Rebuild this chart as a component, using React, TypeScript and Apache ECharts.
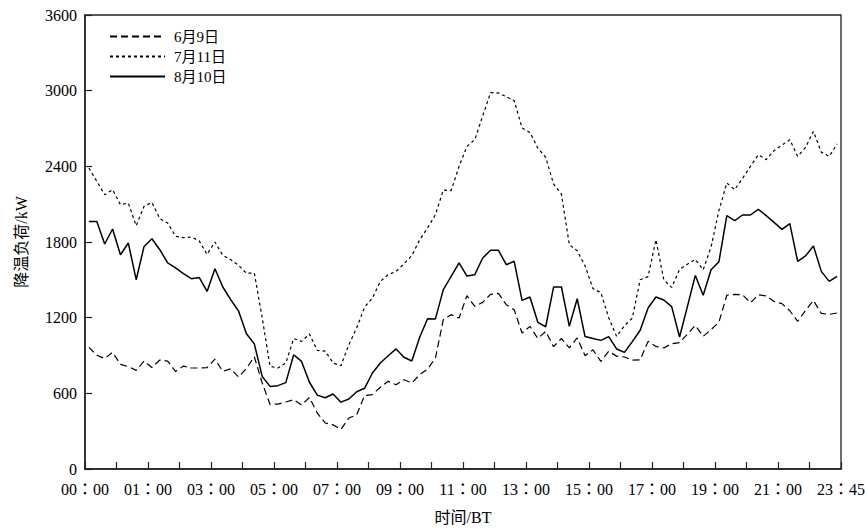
import React, { useEffect, useRef } from "react";
import * as echarts from "echarts";

const seriesNames = ["6月9日", "7月11日", "8月10日"];

const xTickLabels = [
  "00：00", "01：00", "03：00", "05：00", "07：00", "09：00", "11：00",
  "13：00", "15：00", "17：00", "19：00", "21：00", "23：45",
];

const yTicks = { min: 0, max: 3600, interval: 600 };

const load0609 = [
  965, 902, 876, 925, 830, 812, 782, 856, 805, 864, 856, 774, 816, 801, 801, 803, 872, 774, 794, 730, 797, 890,
  682, 512, 515, 531, 550, 507, 567, 444, 365, 350, 314, 404, 430, 582, 590, 648, 695, 668, 708, 682, 748, 793, 880, 1184, 1224, 1197,
  1375, 1289, 1321, 1385, 1392, 1303, 1263, 1078, 1131, 1035, 1091, 970, 1035, 960, 1039, 898, 945, 853, 933, 895, 888, 863, 865, 1012, 972, 960, 994, 1002, 1070, 1138, 1052, 1105,
  1165, 1378, 1385, 1382, 1318, 1382, 1372, 1329, 1311, 1255, 1170, 1258, 1336, 1234, 1226, 1237,
];

const load0711 = [
  2387, 2281, 2175, 2215, 2096, 2109, 1929, 2083, 2114, 1985, 1950, 1845, 1834, 1840, 1809, 1702, 1800, 1695, 1660, 1615, 1552, 1554,
  1200, 814, 801, 841, 1034, 1012, 1070, 940, 935, 841, 819, 985, 1118, 1283, 1356, 1488, 1541, 1567, 1627, 1692, 1818, 1911, 2017, 2212, 2208,
  2400, 2558, 2611, 2800, 2985, 2982, 2952, 2920, 2704, 2669, 2545, 2472, 2260, 2180, 1779, 1730, 1612, 1430, 1400, 1200, 1052, 1135, 1197,
  1501, 1525, 1818, 1500, 1440, 1583, 1624, 1662, 1580, 1760, 2050, 2268, 2215, 2305, 2400, 2492, 2453, 2525, 2568, 2611, 2479, 2550, 2677, 2512, 2479, 2578,
];

const load0810 = [
  1963, 1963, 1784, 1903, 1699, 1792, 1501, 1765, 1826, 1739, 1634, 1594, 1549, 1509, 1519, 1408, 1588, 1443, 1343, 1253, 1073, 992,
  734, 655, 661, 685, 906, 853, 688, 586, 565, 595, 530, 555, 613, 640, 761, 841, 898, 952, 886, 856, 1045, 1192, 1190, 1422, 1527, 1634,
  1530, 1541, 1673, 1734, 1734, 1620, 1647, 1337, 1364, 1163, 1128, 1443, 1443, 1132, 1350, 1050, 1035, 1020, 1050, 952, 925, 1010, 1100,
  1277, 1364, 1340, 1288, 1047, 1290, 1535, 1378, 1580, 1644, 2009, 1969, 2014, 2014, 2059, 2009, 1956, 1900, 1945, 1646, 1690, 1768, 1567, 1488, 1527,
];

const times: string[] = [];
for (let h = 0; h < 24; h++) {
  for (const m of [0, 15, 30, 45]) {
    times.push(`${String(h).padStart(2, "0")}:${String(m).padStart(2, "0")}`);
  }
}

const FONT = "'Liberation Serif', 'Noto Sans CJK SC', serif";
const TICK_FONT = "'Liberation Serif', 'Noto Sans CJK TC', serif";

export default function App() {
  const ref = useRef<HTMLDivElement>(null);
  useEffect(() => {
    if (!ref.current) return;
    const chart = echarts.init(ref.current, undefined, { renderer: "svg" });
    const mk = (name: string, data: number[], type: any, width: number) => ({
      name,
      type: "line",
      data,
      symbol: "none",
      xAxisIndex: 0,
      itemStyle: { color: "#000" },
      lineStyle: { color: "#000", width, type },
    });
    chart.setOption({
      animation: false,
      backgroundColor: "#fff",
      textStyle: { fontFamily: FONT, color: "#000" },
      grid: {
        left: 85,
        right: 24,
        top: 15,
        bottom: 60,
        show: true,
        borderColor: "#222",
        borderWidth: 1.3,
        containLabel: false,
        outerBoundsMode: "none",
      },
      legend: {
        orient: "vertical",
        left: 104,
        top: 24,
        itemWidth: 55,
        itemHeight: 14,
        itemGap: 5,
        data: seriesNames,
        itemStyle: { opacity: 0 },
        textStyle: { fontSize: 15, fontFamily: FONT, color: "#000", padding: [0, 0, 0, 4] },
      },
      xAxis: [
        {
          type: "category",
          data: times,
          boundaryGap: true,
          show: false,
        },
        {
          type: "value",
          min: 0,
          max: 24,
          interval: 2,
          position: "bottom",
          axisLine: { show: true, lineStyle: { color: "#222", width: 1.5 } },
          axisTick: { show: true, inside: true, length: 7, lineStyle: { color: "#222", width: 1.2 } },
          minorTick: { show: true, splitNumber: 2, length: 7, lineStyle: { color: "#222", width: 1.2 } },
          splitLine: { show: false },
          minorSplitLine: { show: false },
          axisLabel: {
            fontSize: 16,
            fontFamily: TICK_FONT,
            color: "#000",
            margin: 12,
            formatter: (v: number) => xTickLabels[Math.round(v / 2)] ?? "",
          },
          name: "时间/BT",
          nameLocation: "middle",
          nameGap: 40,
          nameTextStyle: { fontSize: 16, fontFamily: FONT, color: "#000" },
        },
      ],
      yAxis: {
        type: "value",
        min: yTicks.min,
        max: yTicks.max,
        interval: yTicks.interval,
        axisLine: { show: true, lineStyle: { color: "#222", width: 1.5 } },
        axisTick: { show: true, inside: true, length: 7, lineStyle: { color: "#222", width: 1.2 } },
        splitLine: { show: false },
        axisLabel: {
          fontSize: 16,
          fontFamily: FONT,
          color: "#000",
          margin: 8,
          formatter: (v: number) => String(v),
        },
        name: "降温负荷/kW",
        nameLocation: "middle",
        nameGap: 56,
        nameTextStyle: { fontSize: 16, fontFamily: FONT, color: "#000" },
      },
      series: [
        mk(seriesNames[0], load0609, [7, 4], 1.2),
        mk(seriesNames[1], load0711, [3, 3], 1.2),
        mk(seriesNames[2], load0810, "solid", 1.5),
      ],
    });
    return () => chart.dispose();
  }, []);
  return (
    <div
      ref={ref}
      style={{ position: "fixed", left: 0, top: 0, width: 865, height: 529, background: "#fff" }}
    />
  );
}
